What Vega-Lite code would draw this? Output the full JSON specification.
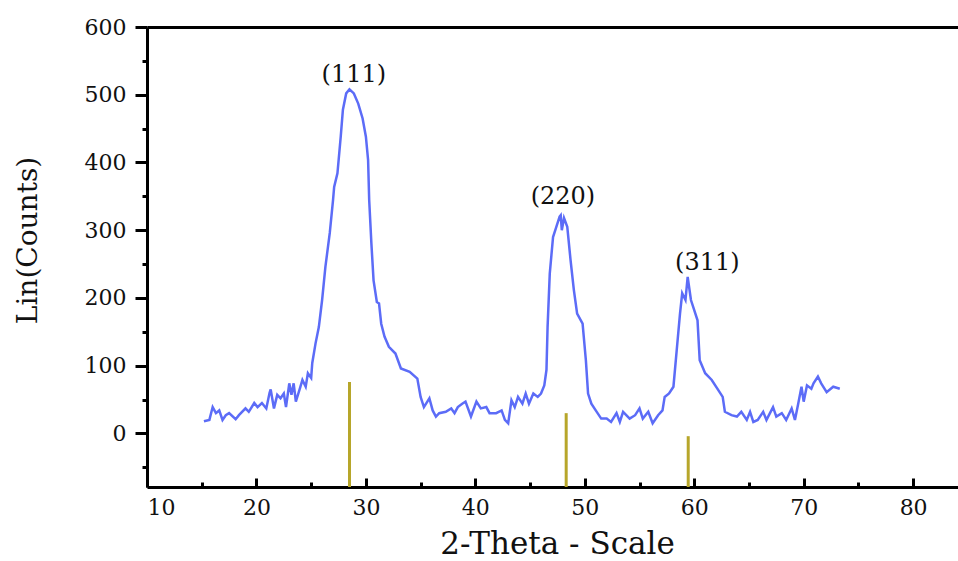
{
  "$schema": "https://vega.github.io/schema/vega-lite/v6.json",
  "width": 811,
  "height": 460,
  "autosize": "none",
  "padding": {"left": 147, "top": 27, "right": 0, "bottom": 74},
  "background": "white",
  "config": {
    "view": {"stroke": null},
    "axis": {
      "labelFont": "DejaVu Serif",
      "labelFontSize": 22,
      "labelColor": "#111111",
      "titleFont": "DejaVu Serif",
      "titleFontWeight": "normal",
      "titleColor": "#111111",
      "domainColor": "black",
      "domainWidth": 3,
      "tickColor": "black",
      "tickWidth": 3,
      "grid": false
    }
  },
  "datasets": {
    "trace": [
      {"two_theta": 15.2, "counts": 18}, {"two_theta": 15.7, "counts": 20}, {"two_theta": 16.0, "counts": 39},
      {"two_theta": 16.3, "counts": 30}, {"two_theta": 16.6, "counts": 34}, {"two_theta": 16.9, "counts": 20},
      {"two_theta": 17.2, "counts": 27}, {"two_theta": 17.5, "counts": 30}, {"two_theta": 18.1, "counts": 21},
      {"two_theta": 18.4, "counts": 27}, {"two_theta": 19.0, "counts": 37}, {"two_theta": 19.3, "counts": 32},
      {"two_theta": 19.8, "counts": 45}, {"two_theta": 20.1, "counts": 39}, {"two_theta": 20.5, "counts": 45},
      {"two_theta": 20.9, "counts": 37}, {"two_theta": 21.2, "counts": 60}, {"two_theta": 21.3, "counts": 65},
      {"two_theta": 21.6, "counts": 37}, {"two_theta": 21.9, "counts": 57}, {"two_theta": 22.2, "counts": 52},
      {"two_theta": 22.5, "counts": 59}, {"two_theta": 22.7, "counts": 39}, {"two_theta": 23.0, "counts": 74},
      {"two_theta": 23.2, "counts": 57}, {"two_theta": 23.4, "counts": 74}, {"two_theta": 23.6, "counts": 47},
      {"two_theta": 24.0, "counts": 68}, {"two_theta": 24.2, "counts": 79}, {"two_theta": 24.5, "counts": 69},
      {"two_theta": 24.7, "counts": 89}, {"two_theta": 25.0, "counts": 82}, {"two_theta": 25.1, "counts": 104},
      {"two_theta": 25.4, "counts": 133}, {"two_theta": 25.7, "counts": 157}, {"two_theta": 26.0, "counts": 197},
      {"two_theta": 26.3, "counts": 246}, {"two_theta": 26.7, "counts": 296}, {"two_theta": 27.0, "counts": 345},
      {"two_theta": 27.1, "counts": 364}, {"two_theta": 27.4, "counts": 384}, {"two_theta": 27.7, "counts": 438},
      {"two_theta": 27.9, "counts": 478}, {"two_theta": 28.2, "counts": 502}, {"two_theta": 28.5, "counts": 508},
      {"two_theta": 28.9, "counts": 502}, {"two_theta": 29.3, "counts": 487}, {"two_theta": 29.7, "counts": 465},
      {"two_theta": 30.0, "counts": 438}, {"two_theta": 30.2, "counts": 404}, {"two_theta": 30.3, "counts": 345},
      {"two_theta": 30.5, "counts": 281}, {"two_theta": 30.7, "counts": 226}, {"two_theta": 31.0, "counts": 194},
      {"two_theta": 31.2, "counts": 192}, {"two_theta": 31.4, "counts": 162}, {"two_theta": 31.7, "counts": 143},
      {"two_theta": 32.1, "counts": 128}, {"two_theta": 32.7, "counts": 118}, {"two_theta": 33.2, "counts": 96},
      {"two_theta": 34.0, "counts": 91}, {"two_theta": 34.7, "counts": 81}, {"two_theta": 35.0, "counts": 54},
      {"two_theta": 35.3, "counts": 39}, {"two_theta": 35.8, "counts": 52}, {"two_theta": 36.1, "counts": 34},
      {"two_theta": 36.4, "counts": 25}, {"two_theta": 36.7, "counts": 30}, {"two_theta": 37.3, "counts": 32},
      {"two_theta": 37.8, "counts": 37}, {"two_theta": 38.1, "counts": 30}, {"two_theta": 38.4, "counts": 39},
      {"two_theta": 38.8, "counts": 44}, {"two_theta": 39.1, "counts": 47}, {"two_theta": 39.6, "counts": 25},
      {"two_theta": 40.1, "counts": 47}, {"two_theta": 40.5, "counts": 37}, {"two_theta": 41.0, "counts": 39},
      {"two_theta": 41.3, "counts": 30}, {"two_theta": 41.9, "counts": 30}, {"two_theta": 42.4, "counts": 34},
      {"two_theta": 42.7, "counts": 20}, {"two_theta": 43.0, "counts": 15}, {"two_theta": 43.3, "counts": 49},
      {"two_theta": 43.6, "counts": 39}, {"two_theta": 43.9, "counts": 54}, {"two_theta": 44.3, "counts": 44},
      {"two_theta": 44.6, "counts": 59}, {"two_theta": 44.9, "counts": 44}, {"two_theta": 45.3, "counts": 59},
      {"two_theta": 45.7, "counts": 54}, {"two_theta": 46.0, "counts": 59}, {"two_theta": 46.3, "counts": 71},
      {"two_theta": 46.5, "counts": 94}, {"two_theta": 46.6, "counts": 157}, {"two_theta": 46.8, "counts": 236},
      {"two_theta": 47.1, "counts": 290}, {"two_theta": 47.4, "counts": 305}, {"two_theta": 47.7, "counts": 320},
      {"two_theta": 47.8, "counts": 322}, {"two_theta": 47.9, "counts": 300}, {"two_theta": 48.1, "counts": 318},
      {"two_theta": 48.4, "counts": 305}, {"two_theta": 48.7, "counts": 256}, {"two_theta": 49.0, "counts": 212},
      {"two_theta": 49.3, "counts": 177}, {"two_theta": 49.8, "counts": 162}, {"two_theta": 50.1, "counts": 108},
      {"two_theta": 50.3, "counts": 59}, {"two_theta": 50.6, "counts": 44}, {"two_theta": 51.0, "counts": 34},
      {"two_theta": 51.5, "counts": 22}, {"two_theta": 52.0, "counts": 22}, {"two_theta": 52.4, "counts": 17},
      {"two_theta": 52.9, "counts": 30}, {"two_theta": 53.2, "counts": 17}, {"two_theta": 53.5, "counts": 32},
      {"two_theta": 54.1, "counts": 22}, {"two_theta": 54.6, "counts": 27}, {"two_theta": 55.0, "counts": 37},
      {"two_theta": 55.3, "counts": 22}, {"two_theta": 55.8, "counts": 32}, {"two_theta": 56.2, "counts": 15},
      {"two_theta": 56.7, "counts": 27}, {"two_theta": 57.1, "counts": 34}, {"two_theta": 57.3, "counts": 54},
      {"two_theta": 57.7, "counts": 59}, {"two_theta": 58.1, "counts": 69}, {"two_theta": 58.4, "counts": 123},
      {"two_theta": 58.7, "counts": 177}, {"two_theta": 58.9, "counts": 207}, {"two_theta": 59.2, "counts": 197},
      {"two_theta": 59.4, "counts": 231}, {"two_theta": 59.7, "counts": 197}, {"two_theta": 60.0, "counts": 182},
      {"two_theta": 60.3, "counts": 167}, {"two_theta": 60.5, "counts": 108}, {"two_theta": 61.0, "counts": 89},
      {"two_theta": 61.6, "counts": 79}, {"two_theta": 62.2, "counts": 64}, {"two_theta": 62.6, "counts": 54},
      {"two_theta": 62.8, "counts": 32}, {"two_theta": 63.4, "counts": 27}, {"two_theta": 63.9, "counts": 25},
      {"two_theta": 64.3, "counts": 32}, {"two_theta": 64.8, "counts": 20}, {"two_theta": 65.1, "counts": 32},
      {"two_theta": 65.4, "counts": 17}, {"two_theta": 65.8, "counts": 20}, {"two_theta": 66.3, "counts": 32},
      {"two_theta": 66.6, "counts": 20}, {"two_theta": 67.2, "counts": 39}, {"two_theta": 67.5, "counts": 25},
      {"two_theta": 68.0, "counts": 30}, {"two_theta": 68.4, "counts": 20}, {"two_theta": 68.9, "counts": 37},
      {"two_theta": 69.2, "counts": 20}, {"two_theta": 69.5, "counts": 44}, {"two_theta": 69.8, "counts": 69},
      {"two_theta": 70.0, "counts": 47}, {"two_theta": 70.3, "counts": 71}, {"two_theta": 70.7, "counts": 66},
      {"two_theta": 70.9, "counts": 74}, {"two_theta": 71.3, "counts": 84}, {"two_theta": 71.6, "counts": 74},
      {"two_theta": 72.1, "counts": 61}, {"two_theta": 72.7, "counts": 69}, {"two_theta": 73.3, "counts": 66}
    ],
    "reference": [
      {"position": 28.5, "intensity": 76},
      {"position": 48.3, "intensity": 30},
      {"position": 59.45, "intensity": -4}
    ],
    "labels": [
      {"hkl": "(111)", "x": 28.9, "y": 529},
      {"hkl": "(220)", "x": 48.0, "y": 349},
      {"hkl": "(311)", "x": 61.2, "y": 251}
    ]
  },
  "resolve": {"axis": {"x": "independent", "y": "independent"}},
  "layer": [
    {
      "data": {"name": "trace"},
      "mark": {"type": "line", "color": "#5c6cf7", "strokeWidth": 2.5, "interpolate": "linear"},
      "encoding": {
        "x": {
          "field": "two_theta", "type": "quantitative",
          "scale": {"domain": [10, 84.1], "nice": false, "zero": false},
          "axis": {
            "orient": "bottom",
            "values": [10, 20, 30, 40, 50, 60, 70, 80],
            "tickSize": -9,
            "labelPadding": 19,
            "title": "2-Theta - Scale",
            "titleFontSize": 31,
            "titleBaseline": "alphabetic",
            "titleAlign": "center",
            "titleX": 410,
            "titleY": 66
          }
        },
        "y": {
          "field": "counts", "type": "quantitative",
          "scale": {"domain": [-79, 600], "nice": false, "zero": false},
          "axis": {
            "orient": "left",
            "values": [0, 100, 200, 300, 400, 500, 600],
            "tickSize": 12,
            "labelPadding": 9,
            "title": "Lin(Counts)",
            "titleFontSize": 28,
            "titleAngle": -90,
            "titleAlign": "center",
            "titleBaseline": "middle",
            "titleX": -119,
            "titleY": 213
          }
        }
      }
    },
    {
      "data": {"name": "reference"},
      "mark": {"type": "rule", "color": "#b7a62a", "strokeWidth": 3},
      "encoding": {
        "x": {
          "field": "position", "type": "quantitative",
          "scale": {"domain": [10, 84.1], "nice": false, "zero": false},
          "axis": {
            "orient": "bottom",
            "values": [15, 25, 35, 45, 55, 65, 75],
            "tickSize": -5,
            "labels": false,
            "domain": false,
            "title": null
          }
        },
        "y": {
          "field": "intensity", "type": "quantitative",
          "scale": {"domain": [-79, 600], "nice": false, "zero": false},
          "axis": {
            "orient": "left",
            "values": [-50, 50, 150, 250, 350, 450, 550],
            "tickSize": 5,
            "labels": false,
            "domain": false,
            "title": null
          }
        },
        "y2": {"datum": -79}
      }
    },
    {
      "data": {"name": "labels"},
      "mark": {"type": "text", "font": "DejaVu Serif", "fontSize": 24, "color": "#111111", "align": "center", "baseline": "middle"},
      "encoding": {
        "x": {
          "field": "x", "type": "quantitative",
          "scale": {"domain": [10, 84.1], "nice": false, "zero": false},
          "axis": {
            "orient": "top",
            "ticks": false,
            "labels": false,
            "domain": true,
            "title": null
          }
        },
        "y": {
          "field": "y", "type": "quantitative",
          "scale": {"domain": [-79, 600], "nice": false, "zero": false},
          "axis": null
        },
        "text": {"field": "hkl"}
      }
    }
  ]
}
